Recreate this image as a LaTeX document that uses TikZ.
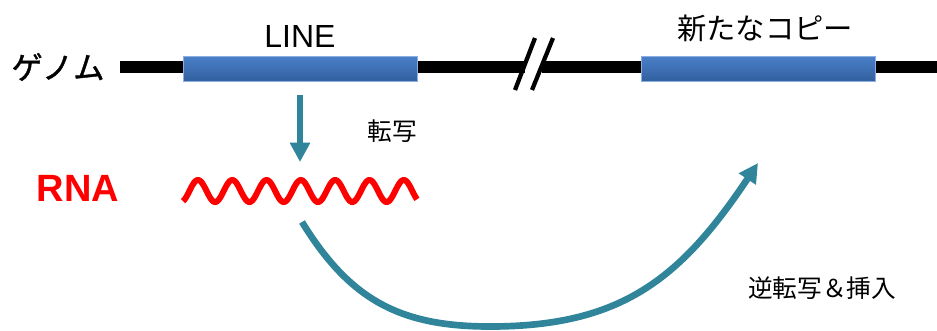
\documentclass[tikz,border=0pt]{standalone}
\usepackage{fontspec}
\setmainfont{Liberation Sans}
\newfontfamily\jp{Noto Sans CJK JP}
\newfontfamily\jpb[FakeBold=1.2]{Noto Sans CJK JP}
\newfontfamily\lat{Liberation Sans}
\usetikzlibrary{arrows.meta}
\definecolor{teal1}{RGB}{49,133,155}
\definecolor{boxtop}{RGB}{74,128,200}
\definecolor{boxbot}{RGB}{50,96,160}
\definecolor{boxedge}{RGB}{140,175,225}
\definecolor{rnared}{RGB}{255,0,0}
\tikzset{
  genome/.style={line width=8.5pt, black},
  brk/.style={line width=3.2pt, black},
  elem/.style={rectangle, minimum width=175.5pt, minimum height=18.75pt, inner sep=0pt,
    top color=boxtop, bottom color=boxbot, draw=boxedge, line width=0.6pt},
  lbl/.style={inner sep=0pt, font=\jp\fontsize{22pt}{24pt}\selectfont},
  small/.style={inner sep=0pt, font=\jp\fontsize{18.5pt}{22pt}\selectfont},
  tarrow/.style={teal1, -{Triangle[length=14.5pt,width=14.5pt]}},
}
\begin{document}
\begin{tikzpicture}[x=0.75pt,y=-0.75pt]
\useasboundingbox (0,0) rectangle (937,330);
% genome line
\coordinate (gL) at (120,67);
\coordinate (b1) at (525,67);
\coordinate (b2) at (542,67);
\coordinate (gR) at (937,67);
\draw[genome] (gL) -- (b1);
\draw[genome] (b2) -- (gR);
\coordinate (s1a) at (515,90); \coordinate (s1b) at (535,38);
\coordinate (s2a) at (532,90); \coordinate (s2b) at (553,38);
\draw[brk] (s1a) -- (s1b);
\draw[brk] (s2a) -- (s2b);
% elements
\node[elem] (line) at (300,68.5) {};
\node[elem] (copy) at (758,68.5) {};
\node[inner sep=0pt] (linelbl) at (300,36.5) {\lat\fontsize{24pt}{26pt}\selectfont LINE};
\node[lbl] (copylbl) at (765,28.5) {新たなコピー};
\node[inner sep=0pt, font=\jpb\fontsize{23.5pt}{26pt}\selectfont] (genlbl) at (58,67) {ゲノム};
% RNA
\node[inner sep=0pt, text=rnared, font=\bfseries\fontsize{28.5pt}{30pt}\selectfont] (rnalbl) at (78,188.5) {RNA};
\draw[rnared, line width=4.5pt] plot[domain=183:417, samples=240, smooth]
  (\x, {191 - 11*sin(10.4956*(\x-189.4))});
\coordinate (rnaTop) at (300,162);
\coordinate (tStart) at (300,95);
\coordinate (cStart) at (302,222);
\coordinate (cMid) at (490,326.5);
\coordinate (cEnd) at (758,163);
% transcription arrow
\draw[tarrow, line width=4.5pt] (tStart) -- (rnaTop);
\node[small] (txlbl) at (392,131) {転写};
% reverse transcription arrow
\draw[tarrow, line width=5pt] (cStart) .. controls (350,300) and (400,326.5) .. (cMid)
   .. controls (620,326.5) and (680,280) .. (cEnd);
\node[small] (rtlbl) at (822,288.5) {逆転写＆挿入};
\end{tikzpicture}
\end{document}
